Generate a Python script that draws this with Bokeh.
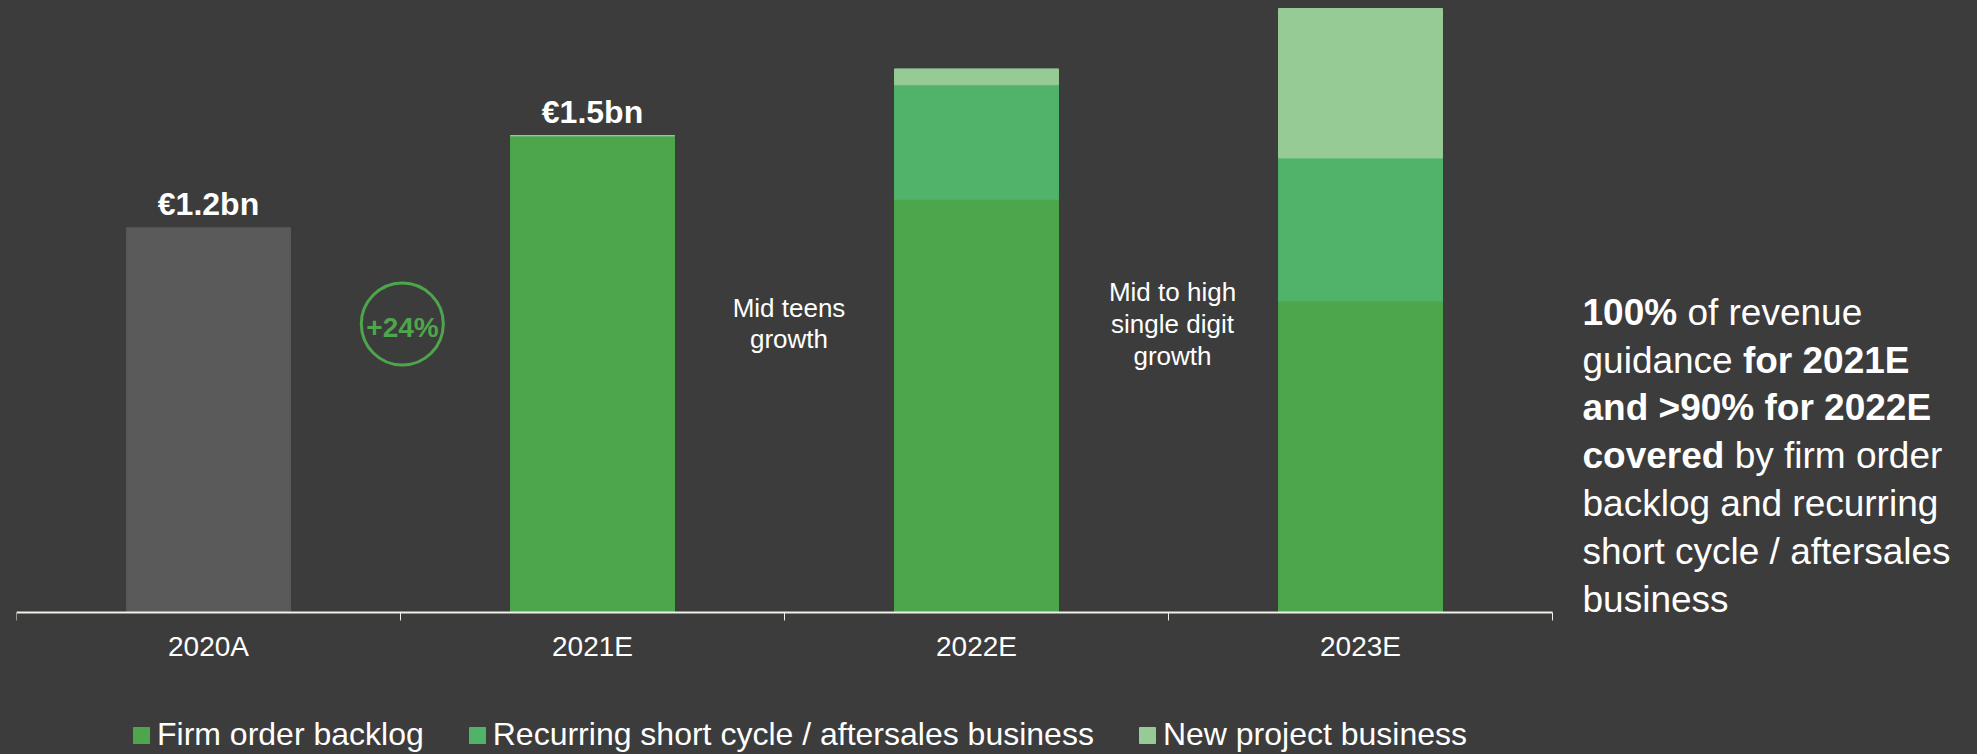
from bokeh.plotting import figure
from bokeh.models import (Range1d, LinearAxis, FixedTicker, Label,
                          Legend, LegendItem, ColumnDataSource)
from bokeh.core.properties import value
from bokeh.embed import file_html
from bokeh.resources import INLINE

# ---------------- data ----------------
categories = ["2020A", "2021E", "2022E", "2023E"]
actual_revenue = [1.21, 0.0, 0.0, 0.0]            # EUR bn, 2020A actual (grey)
firm_order_backlog = [0.0, 1.50, 1.30, 0.98]      # EUR bn
recurring_short_cycle = [0.0, 0.0, 0.36, 0.45]    # EUR bn
new_project_business = [0.0, 0.0, 0.05, 0.47]     # EUR bn
series_names = ["Firm order backlog",
                "Recurring short cycle / aftersales business",
                "New project business"]
label_categories = ["2020A", "2021E"]
label_values = [1.21, 1.50]
value_labels = ["€1.2bn", "€1.5bn"]
growth_badge = "+24%"
note_teens = ["Mid teens", "growth"]
note_single = ["Mid to high", "single digit", "growth"]
side_note = [
    [("100%", True), (" of revenue", False)],
    [("guidance ", False), ("for 2021E", True)],
    [("and >90% for 2022E", True)],
    [("covered", True), (" by firm order", False)],
    [("backlog and recurring", False)],
    [("short cycle / aftersales", False)],
    [("business", False)],
]

# ---------------- style / layout ----------------
BG = "#3c3c3c"
GREY = "#5a5a5a"
G_DARK = "#4da64b"
G_MID = "#50b369"
G_LIGHT = "#97cb96"
AXIS = "#eef3e8"
WHITE = "#ffffff"
FONT = "Liberation Sans"

W, H = 1976, 753          # canvas
LEFT = 16                 # frame left edge (px)
FW, FH = W - LEFT, H      # frame covers the rest of the canvas
AXIS_Y = 612              # pixel row of the value baseline
PXU = 604 / 1.9           # pixels per EUR bn
n = len(categories)
STEP = 384                # pixels per category slot

p = figure(x_range=Range1d(0, FW / STEP),
           y_range=Range1d(-(H - AXIS_Y) / PXU, AXIS_Y / PXU),
           frame_width=FW, frame_height=FH,
           min_border_left=LEFT, min_border_right=0, min_border_top=0, min_border_bottom=0,
           x_axis_location=None, y_axis_location=None,
           toolbar_location=None, output_backend="svg",
           background_fill_color=BG, border_fill_color=BG, outline_line_color=None)
p.xgrid.grid_line_color = None
p.ygrid.grid_line_color = None
# pixel-like helper range for annotations (0 at value baseline, up positive)
p.extra_y_ranges = {"py": Range1d(AXIS_Y - H, AXIS_Y)}

# category slots: centres and boundaries in x-range units
cat_x = {c: i + 0.5 for i, c in enumerate(categories)}
centers = [cat_x[c] for c in categories]
bounds = [float(i) for i in range(n + 1)]

ax = LinearAxis(ticker=FixedTicker(ticks=centers, minor_ticks=bounds),
                major_label_overrides={cat_x[c]: c for c in categories},
                fixed_location=0, bounds=(0, n))
ax.axis_line_color = AXIS
ax.axis_line_width = 2
ax.major_tick_line_color = None
ax.major_tick_out = 0
ax.major_tick_in = 0
ax.minor_tick_line_color = AXIS
ax.minor_tick_line_width = 1
ax.minor_tick_out = 8
ax.minor_tick_in = 0
ax.major_label_text_font = FONT
ax.major_label_text_font_size = "28px"
ax.major_label_text_color = WHITE
ax.major_label_standoff = 10
p.add_layout(ax, "below")

# bars
BAR_W = 0.427
p.vbar(x=centers, top=actual_revenue, width=BAR_W, color=GREY)
src = ColumnDataSource(dict(x=centers, firm=firm_order_backlog,
                            rec=recurring_short_cycle, new=new_project_business))
rs = p.vbar_stack(["firm", "rec", "new"], x="x", width=BAR_W,
                  color=[G_DARK, G_MID, G_LIGHT], source=src)

# value labels above first two bars
p.text(x=[cat_x[c] for c in label_categories], y=label_values, text=value_labels,
       text_align="center", text_baseline="alphabetic", y_offset=-24,
       text_font=value(FONT), text_font_style="bold", text_font_size="32px",
       text_color=WHITE)


def px(xpix):
    return xpix / STEP


# growth badge
p.scatter(x=[px(385.8)], y=[288.5], y_range_name="py",
          marker="circle", size=82, fill_color=None, line_color=G_DARK, line_width=3)


def add_label(xpix, y, text, size, bold=False, color=WHITE, align="left"):
    p.add_layout(Label(x=px(xpix), y=y, y_range_name="py", text=text,
                       text_font=FONT, text_font_size=size,
                       text_font_style="bold" if bold else "normal",
                       text_color=color, text_align=align,
                       text_baseline="alphabetic"))


add_label(386, 285, growth_badge, "28px", bold=True, color=G_DARK, align="center")

for i, line in enumerate(note_teens):
    add_label(772.5, 304.6 - 31 * i, line, "26px", align="center")
for i, line in enumerate(note_single):
    add_label(1156, 320.6 - 32.2 * i, line, "26px", align="center")

# side note with mixed bold / regular runs (Arial-metric advance widths)
REG = {' ': 278, '%': 889, '/': 278, '>': 584, 'E': 667, 'a': 556, 'b': 556, 'c': 500,
       'd': 556, 'e': 556, 'f': 278, 'g': 556, 'h': 556, 'i': 222, 'k': 500, 'l': 222,
       'm': 833, 'n': 556, 'o': 556, 'p': 556, 'r': 333, 's': 500, 't': 278, 'u': 556,
       'v': 500, 'y': 500}
BOLD = {' ': 278, '%': 889, '>': 584, 'E': 667, 'a': 556, 'c': 556, 'd': 611, 'e': 556,
        'f': 333, 'n': 611, 'o': 611, 'r': 389, 'v': 556}
for d in "0123456789":
    REG[d] = 556
    BOLD[d] = 556


def run_width(s, bold, size):
    table = BOLD if bold else REG
    return sum(table.get(ch, 556) for ch in s) * size / 1000.0


SIDE_SIZE = 37
for i, line in enumerate(side_note):
    x = 1566.0
    y = 300.2 - 47.8 * i
    for txt, bold in line:
        stripped = txt.lstrip(" ")
        lead = len(txt) - len(stripped)
        x += run_width(" " * lead, bold, SIDE_SIZE)   # leading spaces are not rendered
        add_label(x, y, stripped, f"{SIDE_SIZE}px", bold=bold)
        x += run_width(stripped, bold, SIDE_SIZE)

# legend below the axis (inside the frame)
legend = Legend(items=[LegendItem(label=nm, renderers=[r]) for nm, r in zip(series_names, rs)],
                location=(115, 0), orientation="horizontal",
                background_fill_alpha=0, border_line_color=None,
                padding=0, margin=0, spacing=43, label_standoff=6,
                glyph_width=20, glyph_height=20,
                label_text_font=FONT, label_text_font_size="32px",
                label_text_color=WHITE)
p.add_layout(legend)

html = file_html(p, INLINE, title="Revenue coverage")
html = html.replace("</head>",
                    "<style>html, body { background-color: #3c3c3c; }</style></head>", 1)
open("out.html", "w").write(html)
